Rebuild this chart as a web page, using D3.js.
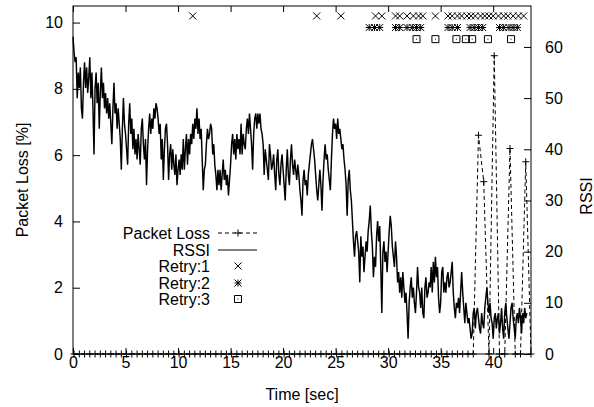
<!DOCTYPE html>
<html>
<head>
<meta charset="utf-8">
<script src="https://cdn.jsdelivr.net/npm/d3@7"></script>
<style>
  html, body { margin: 0; padding: 0; background: #fff; }
  svg text { font-family: "Liberation Sans", Arial, Helvetica, sans-serif; font-size: 16px; fill: #000; }
</style>
</head>
<body>
<svg id="chart" width="594" height="407"></svg>
<script>
// ---- data -------------------------------------------------------------
// RSSI samples, one every 0.1 s starting at t = 0
const rssiStart = 0;
const rssiStep = 0.1;
const rssiValues = [
  62,59,57,58,50,55,52,56,48,46,
  53,57,52,56,51,54,58,50,55,48,
  39,52,55,49,53,44,51,56,50,53,
  48,51,47,50,46,49,45,41,48,53,
  47,49,44,48,45,42,36,44,50,45,
  43,40,37,45,49,43,46,40,44,39,
  42,38,43,40,37,44,46,41,38,42,
  33,40,44,47,43,46,44,48,46,49,
  48,46,43,45,38,42,34,40,44,45,
  41,34,39,41,36,40,37,35,39,33,
  36,38,35,39,36,42,36,40,43,37,
  42,39,43,41,45,42,46,44,48,43,
  46,42,44,38,32,36,37,41,44,42,
  43,45,44,39,41,37,35,32,36,33,
  36,32,35,38,34,36,33,35,31,34,
  37,41,43,39,42,38,43,40,42,39,
  45,39,43,41,40,44,46,43,47,44,
  41,36,43,46,47,44,47,45,47,44,
  43,41,35,40,38,36,34,41,39,36,
  37,39,35,32,38,40,35,33,37,39,
  36,33,30,36,40,35,33,38,41,37,
  35,38,36,34,37,35,32,30,27,34,
  36,33,34,31,35,37,39,41,42,40,
  38,35,32,30,33,36,33,28,34,38,
  41,38,39,36,34,32,38,43,46,44,
  45,42,46,43,44,42,40,41,38,36,
  33,27,34,36,32,30,26,22,19,23,
  24,22,20,14,23,19,21,16,19,22,
  20,24,26,29,24,21,15,19,17,23,
  26,22,25,17,8,20,22,18,20,16,
  20,24,27,25,21,19,17,22,19,14,
  16,12,15,11,16,13,10,12,8,3,
  10,13,15,11,13,10,8,12,17,13,
  12,9,13,8,7,13,15,11,12,14,
  13,17,12,18,14,19,15,17,11,8,
  10,16,17,12,14,12,15,16,13,14,
  16,18,12,9,7,10,9,11,8,12,
  16,12,9,6,10,8,6,7,5,3,
  4,8,9,5,8,9,7,5,4,8,
  6,5,9,11,13,10,8,10,7,6,
  3,7,8,5,7,8,4,6,9,5,
  3,8,10,7,5,3,6,9,10,7,
  5,3,7,8,6,9,7,4,8,6,
  9,7,8
];

// Packet loss [%], one value every 0.5 s starting at t = 0.1
const lossStart = 0.1;
const lossStep = 0.5;
const lossValues = [
  0,0,0,0,0,0,0,0,0,0,
  0,0,0,0,0,0,0,0,0,0,
  0,0,0,0,0,0,0,0,0,0,
  0,0,0,0,0,0,0,0,0,0,
  0,0,0,0,0,0,0,0,0,0,
  0,0,0,0,0,0,0,0,0,0,
  0,0,0,0,0,0,0,0,0,0,
  0,0,0,0,0,0,0,6.6,5.2,0,
  9.0,0,0,6.2,0,0,5.8,0
];

// Retransmission events (time in seconds) and the level each row is drawn at
const retry1Times = [11.4, 23.2, 25.5, 28.8, 29.4, 30.7, 31.1, 31.8, 32.4, 32.9, 33.3, 34.5,
  35.7, 36.1, 36.6, 37.0, 37.5, 37.9, 38.3, 38.8, 39.2, 39.6, 40.0, 40.5, 41.0, 41.4, 41.9, 42.4, 42.9];
const retry2Times = [28.2, 28.7, 29.2, 30.7, 31.1, 31.8, 32.3, 32.7, 33.1, 35.7, 36.1, 36.6,
  37.8, 38.2, 38.6, 39.0, 40.6, 41.0, 41.5, 41.9, 42.3];
const retry3Times = [32.7, 34.5, 36.5, 37.4, 38.0, 39.5, 41.7];
const retryLevels = [10.2, 9.85, 9.5];

// Axis ticks
const xTicks = [0, 5, 10, 15, 20, 25, 30, 35, 40];
const lossTicks = [0, 2, 4, 6, 8, 10];
const rssiTicks = [0, 10, 20, 30, 40, 50, 60];

const legendLabels = ["Packet Loss", "RSSI", "Retry:1", "Retry:2", "Retry:3"];

// ---- layout -----------------------------------------------------------
const plot = { left: 73, right: 531, top: 6, bottom: 354 };

const x = d3.scaleLinear().domain([0, 43.6]).range([plot.left, plot.right]);
const yLoss = d3.scaleLinear().domain([0, 10.5]).range([plot.bottom, plot.top]);
const yRssi = d3.scaleLinear().domain([0, 68]).range([plot.bottom, plot.top]);

const svg = d3.select("#chart");

// ---- point symbols ----------------------------------------------------
const S = 3.5;
const symbols = {
  plus:  (cx, cy) => `M${cx - S},${cy}H${cx + S}M${cx},${cy - S}V${cy + S}`,
  cross: (cx, cy) => `M${cx - S},${cy - S}L${cx + S},${cy + S}M${cx - S},${cy + S}L${cx + S},${cy - S}`,
  star:  (cx, cy) => symbols.plus(cx, cy) + symbols.cross(cx, cy),
  box:   (cx, cy) => `M${cx - S},${cy - S}H${cx + S}V${cy + S}H${cx - S}Z`
};

// ---- axes -------------------------------------------------------------
function styleAxis(g) {
  g.select(".domain").remove();
  g.selectAll(".tick line").attr("stroke", "#000").attr("stroke-width", 1);
  g.selectAll(".tick text").attr("font-family", null).attr("font-size", null).attr("fill", "#000");
}

svg.append("g")
  .attr("transform", `translate(0,${plot.bottom})`)
  .call(d3.axisBottom(x).tickValues(xTicks).tickFormat(d3.format("d"))
    .tickSizeInner(-6).tickSizeOuter(0).tickPadding(3))
  .call(styleAxis);

svg.append("g")
  .attr("transform", `translate(0,${plot.top})`)
  .call(d3.axisTop(x).tickValues(xTicks).tickFormat("")
    .tickSizeInner(-6).tickSizeOuter(0))
  .call(styleAxis);

svg.append("g")
  .attr("transform", `translate(${plot.left},0)`)
  .call(d3.axisLeft(yLoss).tickValues(lossTicks).tickFormat(d3.format("d"))
    .tickSizeInner(-7).tickSizeOuter(0).tickPadding(10))
  .call(styleAxis);

svg.append("g")
  .attr("transform", `translate(${plot.right},0)`)
  .call(d3.axisRight(yRssi).tickValues(rssiTicks).tickFormat(d3.format("d"))
    .tickSizeInner(-7).tickSizeOuter(0).tickPadding(14))
  .call(styleAxis);

// ---- series -----------------------------------------------------------
const rssiData = rssiValues.map((v, i) => ({ t: rssiStart + i * rssiStep, v }));
const lossData = lossValues.map((v, i) => ({ t: lossStart + i * lossStep, v }));

svg.append("path")
  .datum(rssiData)
  .attr("fill", "none")
  .attr("stroke", "#000")
  .attr("stroke-width", 1.45)
  .attr("stroke-linejoin", "miter")
  .attr("d", d3.line().x(d => x(d.t)).y(d => yRssi(d.v)));

svg.append("path")
  .datum(lossData)
  .attr("fill", "none")
  .attr("stroke", "#000")
  .attr("stroke-width", 1)
  .attr("stroke-dasharray", "4,3")
  .attr("d", d3.line().x(d => x(d.t)).y(d => yLoss(d.v)));

svg.append("g").selectAll("path")
  .data(lossData)
  .join("path")
  .attr("fill", "none").attr("stroke", "#000").attr("stroke-width", 1)
  .attr("d", d => symbols.plus(x(d.t), yLoss(d.v)));

const retryRows = [
  { times: retry1Times, level: retryLevels[0], sym: "cross" },
  { times: retry2Times, level: retryLevels[1], sym: "star" },
  { times: retry3Times, level: retryLevels[2], sym: "box" }
];

retryRows.forEach(row => {
  const g = svg.append("g");
  g.selectAll("path")
    .data(row.times)
    .join("path")
    .attr("fill", "none").attr("stroke", "#000").attr("stroke-width", 1)
    .attr("d", t => symbols[row.sym](x(t), yLoss(row.level)));
  if (row.sym === "box") {
    g.selectAll("rect")
      .data(row.times)
      .join("rect")
      .attr("x", t => x(t) - 0.5).attr("y", yLoss(row.level) - 0.5)
      .attr("width", 1).attr("height", 1).attr("fill", "#000");
  }
});

// ---- border -----------------------------------------------------------
svg.append("rect")
  .attr("x", plot.left).attr("y", plot.top)
  .attr("width", plot.right - plot.left).attr("height", plot.bottom - plot.top)
  .attr("fill", "none").attr("stroke", "#000").attr("stroke-width", 1);

// ---- axis titles ------------------------------------------------------
svg.append("text")
  .attr("x", (plot.left + plot.right) / 2).attr("y", 400)
  .attr("text-anchor", "middle")
  .text("Time [sec]");

svg.append("text")
  .attr("transform", `translate(22,${(plot.top + plot.bottom) / 2}) rotate(-90)`)
  .attr("text-anchor", "middle").attr("dy", "0.35em")
  .text("Packet Loss [%]");

svg.append("text")
  .attr("transform", `translate(586,196) rotate(-90)`)
  .attr("text-anchor", "middle").attr("dy", "0.35em")
  .text("RSSI");

// ---- legend -----------------------------------------------------------
const legendY = [233, 250, 266, 283, 299];
const legend = svg.append("g");
const lx0 = 218, lx1 = 257, lxm = 238, ltx = 210;

legend.selectAll("text")
  .data(legendLabels)
  .join("text")
  .attr("x", ltx).attr("y", (d, i) => legendY[i])
  .attr("dy", "0.35em").attr("text-anchor", "end")
  .text(d => d);

legend.append("line")
  .attr("x1", lx0).attr("x2", lx1).attr("y1", legendY[0]).attr("y2", legendY[0])
  .attr("stroke", "#000").attr("stroke-dasharray", "4,3");
legend.append("path").attr("fill", "none").attr("stroke", "#000")
  .attr("d", symbols.plus(lxm, legendY[0]));

legend.append("line")
  .attr("x1", lx0).attr("x2", lx1).attr("y1", legendY[1]).attr("y2", legendY[1])
  .attr("stroke", "#000").attr("stroke-width", 1.2);

["cross", "star", "box"].forEach((s, i) => {
  legend.append("path").attr("fill", "none").attr("stroke", "#000")
    .attr("d", symbols[s](lxm, legendY[i + 2]));
});
legend.append("rect").attr("x", lxm - 0.5).attr("y", legendY[4] - 0.5)
  .attr("width", 1).attr("height", 1).attr("fill", "#000");
</script>
</body>
</html>
